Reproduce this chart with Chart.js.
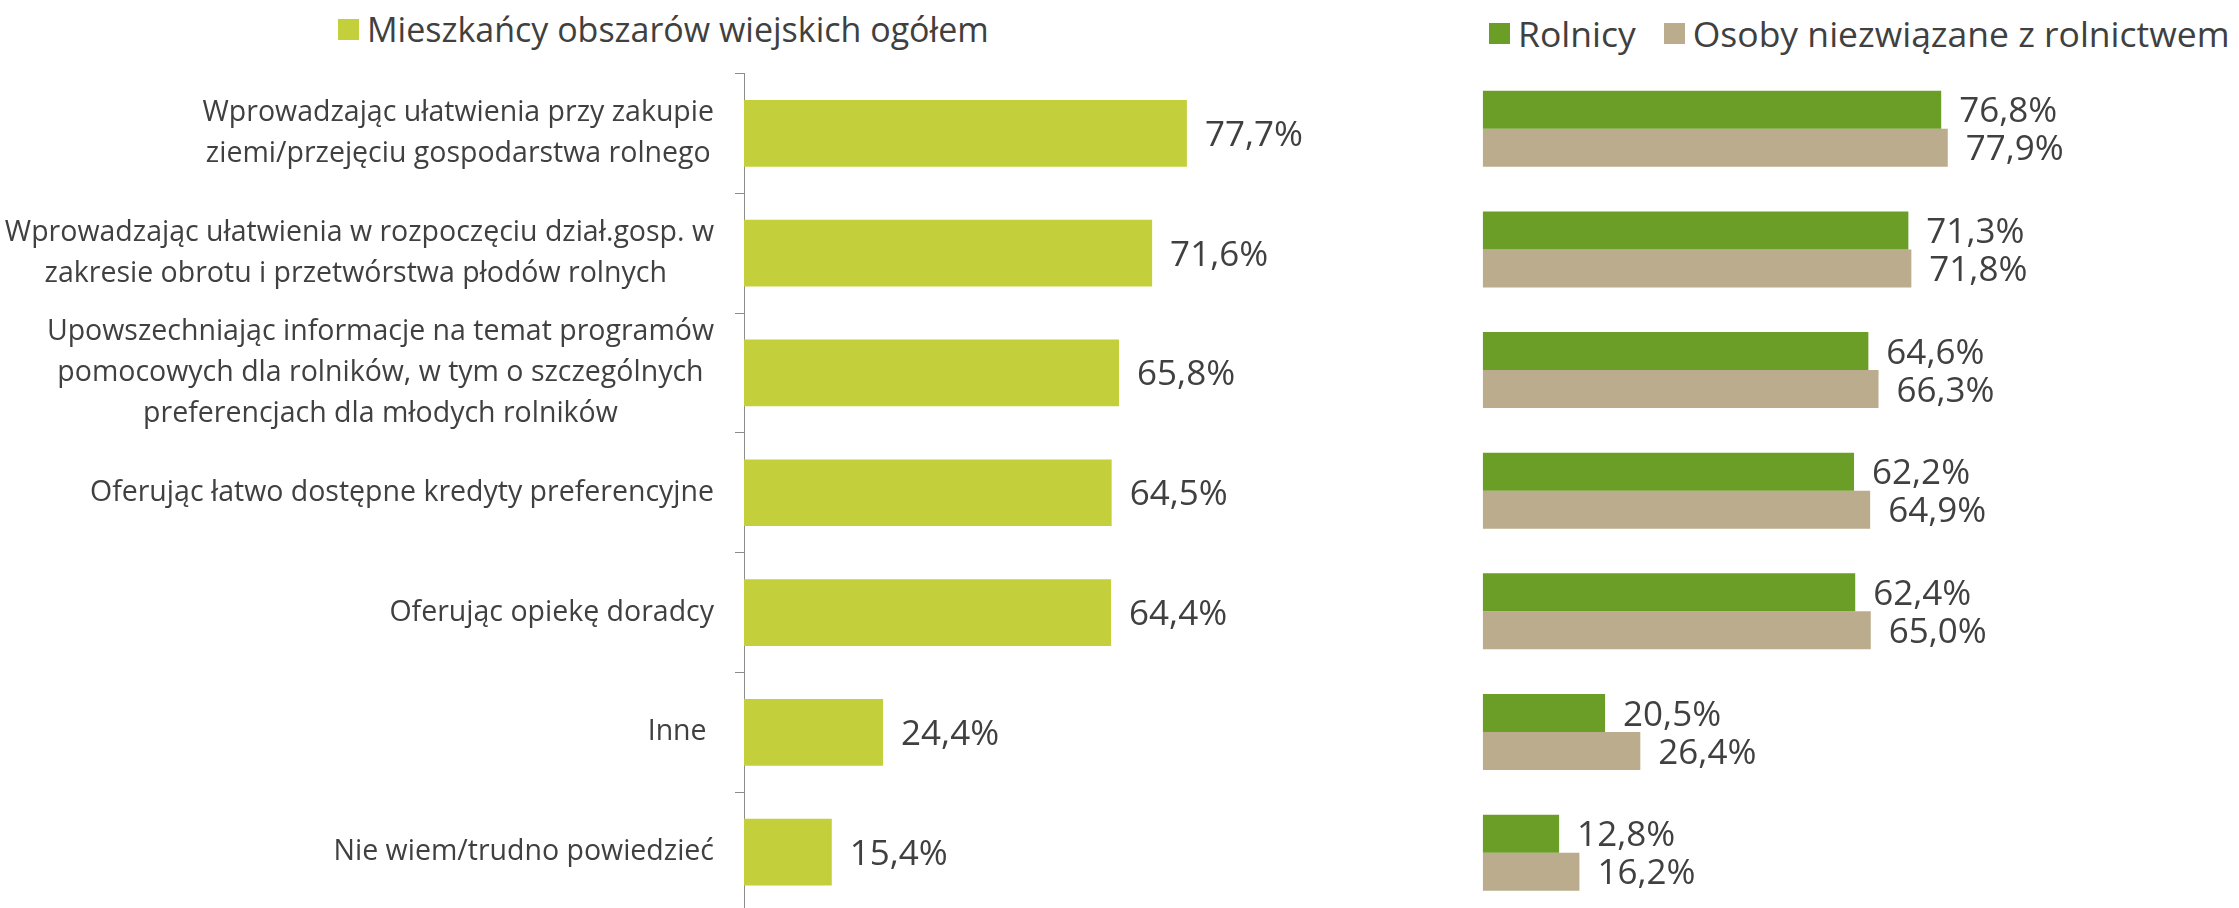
<!DOCTYPE html>
<html>
<head>
<meta charset="utf-8">
<script src="https://cdn.jsdelivr.net/npm/chart.js@4.4.0/dist/chart.umd.min.js"></script>
<style>
  body { margin: 0; background: #fff; overflow: hidden; width: 2239px; height: 908px; position: relative; }
  canvas { position: absolute; top: 0; }
  #chartLeft { left: 0; }
  #chartRight { left: 1440px; }
  .legend { position: absolute; display: flex; align-items: center; font-family: 'Open Sans', sans-serif; font-size: 34px; color: #404040; line-height: 1; white-space: nowrap; }
  .legend .box { width: 21px; height: 21px; margin-right: 8px; }
  .legend .item { display: flex; align-items: center; margin-right: 28px; }
</style>
</head>
<body>
<div class="legend" style="left:338px; top:12px;">
  <div class="item"><span class="box" style="background:#C3D03B"></span>Mieszkańcy obszarów wiejskich ogółem</div>
</div>
<div class="legend" style="left:1489px; top:16px; font-size:35.5px;">
  <div class="item"><span class="box" style="background:#6B9E27"></span>Rolnicy</div>
  <div class="item"><span class="box" style="background:#BAAC8C"></span>Osoby niezwiązane z rolnictwem</div>
</div>
<canvas id="chartLeft" width="1400" height="912"></canvas>
<canvas id="chartRight" width="799" height="913"></canvas>
<script>
// Data
const categories = [
  ['Wprowadzając ułatwienia przy zakupie', 'ziemi/przejęciu gospodarstwa rolnego'],
  ['Wprowadzając ułatwienia w rozpoczęciu dział.gosp. w', 'zakresie obrotu i przetwórstwa płodów rolnych '],
  ['Upowszechniając informacje na temat programów', 'pomocowych dla rolników, w tym o szczególnych', 'preferencjach dla młodych rolników'],
  'Oferując łatwo dostępne kredyty preferencyjne',
  'Oferując opiekę doradcy',
  'Inne ',
  'Nie wiem/trudno powiedzieć'
];
const totalValues = [77.7, 71.6, 65.8, 64.5, 64.4, 24.4, 15.4];
const farmerValues = [76.8, 71.3, 64.6, 62.2, 62.4, 20.5, 12.8];
const nonFarmerValues = [77.9, 71.8, 66.3, 64.9, 65.0, 26.4, 16.2];

const fontFamily = "'Open Sans', sans-serif";
const textColor = '#404040';

Chart.defaults.font.family = fontFamily;
Chart.defaults.color = textColor;

function formatPct(v) {
  return v.toFixed(1).replace('.', ',') + '%';
}

// Draws the value labels to the right of each bar
const valueLabels = {
  id: 'valueLabels',
  afterDatasetsDraw(chart) {
    const ctx = chart.ctx;
    const size = 35;
    ctx.save();
    ctx.font = size + 'px ' + fontFamily;
    ctx.fillStyle = textColor;
    ctx.textAlign = 'left';
    ctx.textBaseline = 'alphabetic';
    chart.data.datasets.forEach((ds, i) => {
      chart.getDatasetMeta(i).data.forEach((bar, j) => {
        ctx.fillText(formatPct(ds.data[j]), bar.x + 18, bar.y + size * 0.357);
      });
    });
    ctx.restore();
  }
};

// Category labels: block right-aligned to the axis, lines centred inside the block
const categoryLabels = {
  id: 'categoryLabels',
  afterDraw(chart) {
    const ctx = chart.ctx;
    const scale = chart.scales.y;
    const size = 28.5;
    const lineHeight = 40.7;
    const right = scale.right - 30;
    ctx.save();
    ctx.font = size + 'px ' + fontFamily;
    ctx.fillStyle = textColor;
    ctx.textAlign = 'center';
    ctx.textBaseline = 'middle';
    chart.data.labels.forEach((label, i) => {
      const lines = Array.isArray(label) ? label : [label];
      const blockW = Math.max(...lines.map(l => ctx.measureText(l).width));
      const cx = right - blockW / 2;
      const y0 = scale.getPixelForTick(i) - (lines.length - 1) * lineHeight / 2;
      lines.forEach((l, k) => ctx.fillText(l, cx, y0 + k * lineHeight));
    });
    ctx.restore();
  }
};

const commonOptions = {
  responsive: false,
  animation: false,
  devicePixelRatio: 1,
  indexAxis: 'y',
  events: [],
  plugins: {
    legend: { display: false },
    tooltip: { enabled: false }
  }
};

// Left chart: all rural residents
new Chart(document.getElementById('chartLeft'), {
  type: 'bar',
  data: {
    labels: categories,
    datasets: [{
      label: 'Mieszkańcy obszarów wiejskich ogółem',
      data: totalValues,
      backgroundColor: '#C3D03B',
      barPercentage: 0.557,
      categoryPercentage: 1
    }]
  },
  options: {
    ...commonOptions,
    layout: { padding: { top: 73.5, right: 86, bottom: 0, left: 0 } },
    scales: {
      x: { display: false, min: 0, max: 100 },
      y: {
        afterFit(scale) {
          scale.width = 744;
          scale.paddingTop = 0;
          scale.paddingBottom = 0;
        },
        grid: { drawOnChartArea: false, drawTicks: true, tickLength: 9, color: '#8C8C8C', offset: true },
        border: { display: true, color: '#8C8C8C', width: 1 },
        ticks: { display: false, autoSkip: false }
      }
    }
  },
  plugins: [valueLabels, categoryLabels]
});

// Right chart: farmers vs non-farmers
new Chart(document.getElementById('chartRight'), {
  type: 'bar',
  data: {
    labels: categories,
    datasets: [{
      label: 'Rolnicy',
      data: farmerValues,
      backgroundColor: '#6B9E27',
      barPercentage: 1,
      categoryPercentage: 0.63
    }, {
      label: 'Osoby niezwiązane z rolnictwem',
      data: nonFarmerValues,
      backgroundColor: '#BAAC8C',
      barPercentage: 1,
      categoryPercentage: 0.63
    }]
  },
  options: {
    ...commonOptions,
    layout: { padding: { top: 68.4, right: 159.3, bottom: 0, left: 42.7 } },
    scales: {
      x: { display: false, min: 0, max: 100 },
      y: { display: false }
    }
  },
  plugins: [valueLabels]
});
</script>
</body>
</html>
